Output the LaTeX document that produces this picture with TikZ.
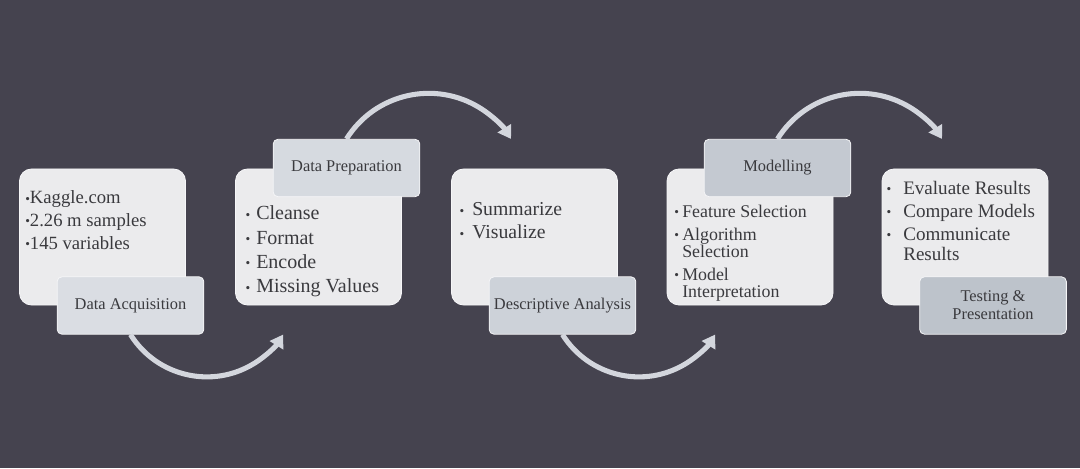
\documentclass[tikz,border=0pt]{standalone}
\usepackage{fontspec}
\setmainfont{Liberation Serif}
\usetikzlibrary{arrows.meta, positioning}

\definecolor{bgcol}{RGB}{69,67,79}
\definecolor{boxcol}{RGB}{235,235,237}
\definecolor{edgecol}{RGB}{246,246,248}
\definecolor{labA}{RGB}{218,221,227}
\definecolor{labB}{RGB}{214,218,224}
\definecolor{labC}{RGB}{205,210,217}
\definecolor{labD}{RGB}{196,201,209}
\definecolor{labE}{RGB}{189,195,203}
\definecolor{flowcol}{RGB}{211,214,221}
\definecolor{txtcol}{RGB}{58,58,62}

\newcommand\bdot{\raisebox{.6pt}{\fontsize{10}{10}\selectfont\textbullet}}
\newcommand\blt[1]{\llap{\bdot\hspace{#1}}}

\tikzset{
  panel/.style={draw=edgecol, line width=.6pt, fill=boxcol, rounded corners=9pt,
    minimum width=124.5pt, minimum height=102pt, inner sep=0pt},
  tag/.style={draw=edgecol, line width=.6pt, rounded corners=3.5pt,
    minimum width=110pt, minimum height=43pt, inner sep=0pt, align=center,
    text=txtcol, font=\fontsize{12.3}{13.5}\selectfont},
  item/.style={anchor=base west, inner sep=0pt, text=txtcol},
  flow/.style={draw=flowcol, line width=3.8pt, -{Triangle[length=9.5pt,width=11.5pt]}}
}

\begin{document}
\begin{tikzpicture}[x=0.75pt,y=0.75pt]
\useasboundingbox (0,0) rectangle (1080,468);
\fill[bgcol] (0,0) rectangle (1080,468);

% panels
\node[panel] (srcbox) at (102.5,231) {};
\node[panel] (prepbox) at (318.5,231) {};
\node[panel] (descbox) at (534.5,231) {};
\node[panel] (modbox) at (750,231) {};
\node[panel] (testbox) at (965,231) {};

% bullet texts
\begin{scope}[every node/.append style={font=\fontsize{14}{16}\selectfont}]
\node[item] (src1) at (25,264) {\bdot Kaggle.com};
\node[item] (src2) at (25,241.3) {\bdot 2.26 m samples};
\node[item] (src3) at (25,219) {\bdot 145 variables};
\end{scope}

\foreach \t [count=\i] in {Cleanse, Format, Encode, Missing Values}
  \node[item, font=\fontsize{15}{17}\selectfont] (prep\i) at (256,{248-(\i-1)*24.3}) {\blt{4.5pt}\t};

\foreach \t [count=\i] in {Summarize, Visualize}
  \node[item, font=\fontsize{14.8}{17}\selectfont] (desc\i) at (472,{252-(\i-1)*23}) {\blt{6pt}\t};

\begin{scope}[every node/.append style={font=\fontsize{13.4}{15}\selectfont}]
\node[item] (mod1) at (682,250.3) {\blt{2.5pt}Feature Selection};
\node[item] (mod2) at (682,228) {\blt{2.5pt}Algorithm};
\node[item] (mod3) at (682,210.3) {Selection};
\node[item] (mod4) at (682,188) {\blt{2.5pt}Model};
\node[item] (mod5) at (682,170.7) {Interpretation};
\end{scope}

\begin{scope}[every node/.append style={font=\fontsize{14.3}{16}\selectfont}]
\node[item] (test1) at (903,273.7) {\blt{9pt}Evaluate Results};
\node[item] (test2) at (903,250.3) {\blt{9pt}Compare Models};
\node[item] (test3) at (903,228) {\blt{9pt}Communicate};
\node[item] (test4) at (903,208) {Results};
\end{scope}

% stage labels
\node[tag, fill=labA] (acq) at (130.5,162.5) {Data Acquisition};
\node[tag, fill=labB] (prep) at (346.5,300) {Data Preparation};
\node[tag, fill=labC] (desc) at (562.5,162.5) {Descriptive Analysis};
\node[tag, fill=labD] (model) at (777.5,300) {Modelling};
\node[tag, fill=labE] (test) at (993,162.5) {Testing \&\\Presentation};

% arrows
\draw[flow] (acq.south) arc[start angle=212, end angle=328, radius=90];
\draw[flow] (prep.north) arc[start angle=148, end angle=32, radius=97];
\draw[flow] (desc.south) arc[start angle=212, end angle=328, radius=90];
\draw[flow] (model.north) arc[start angle=148, end angle=32, radius=97];
\end{tikzpicture}
\end{document}
